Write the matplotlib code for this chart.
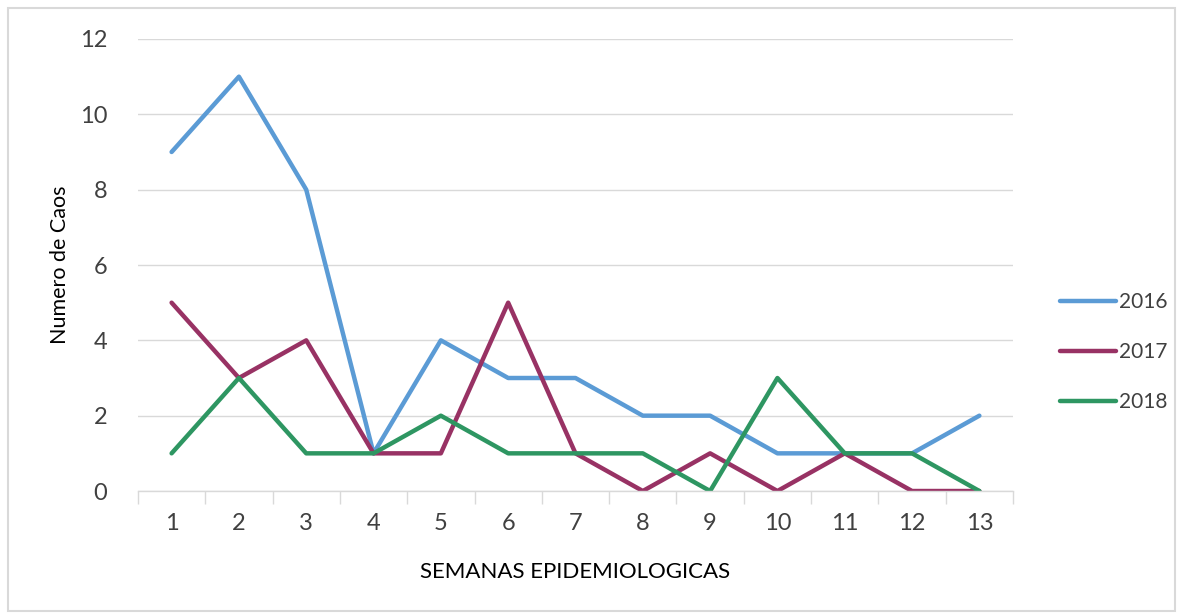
import matplotlib.pyplot as plt
from matplotlib.patches import Rectangle

# Data
semanas = list(range(1, 14))
casos_2016 = [9, 11, 8, 1, 4, 3, 3, 2, 2, 1, 1, 1, 2]
casos_2017 = [5, 3, 4, 1, 1, 5, 1, 0, 1, 0, 1, 0, 0]
casos_2018 = [1, 3, 1, 1, 2, 1, 1, 1, 0, 3, 1, 1, 0]
series = [("2016", casos_2016, "#5B9BD5"),
          ("2017", casos_2017, "#983264"),
          ("2018", casos_2018, "#2E9662")]

plt.rcParams['font.family'] = ['Lato', 'DejaVu Sans']
text_color = "#404040"

fig = plt.figure(figsize=(11.77, 6.14), dpi=100)
fig.patches.append(Rectangle((0.007, 0.005), 0.991, 0.982, transform=fig.transFigure,
                             fill=False, edgecolor="#D9D9D9", linewidth=1.5))

ax = fig.add_axes([0.1172, 0.2003, 0.7435, 0.7362])

for name, vals, c in series:
    ax.plot(semanas, vals, color=c, linewidth=3.2, label=name, solid_capstyle='round')

ax.set_xlim(0.5, 13.5)
ax.set_ylim(0, 12)
ax.set_yticks(range(0, 13, 2))
ax.set_xticks(semanas)
ax.set_xticks([i + 0.5 for i in range(0, 14)], minor=True)
ax.tick_params(axis='x', which='major', length=0, pad=16, labelsize=17, labelcolor=text_color)
ax.tick_params(axis='x', which='minor', length=9, color="#D9D9D9", width=1)
ax.tick_params(axis='y', length=0, pad=22, labelsize=17, labelcolor=text_color)

ax.grid(axis='y', color="#D9D9D9", linewidth=1)
ax.set_axisbelow(True)
for s in ['top', 'right', 'left']:
    ax.spines[s].set_visible(False)
ax.spines['bottom'].set_color("#D9D9D9")
ax.spines['bottom'].set_linewidth(1)

ax.set_ylabel("Numero de Caos", fontsize=15.5, color="black", labelpad=7)
ax.set_xlabel("SEMANAS EPIDEMIOLOGICAS", fontsize=16, color="black", labelpad=20)

leg = fig.legend(loc='center left', bbox_to_anchor=(1060 / 1177, 1 - 352 / 614),
                 frameon=False, fontsize=15, labelcolor=text_color, handlelength=2.7,
                 handletextpad=0.15, labelspacing=1.45, borderpad=0, borderaxespad=0)

fig.savefig("out.png", dpi=100)
